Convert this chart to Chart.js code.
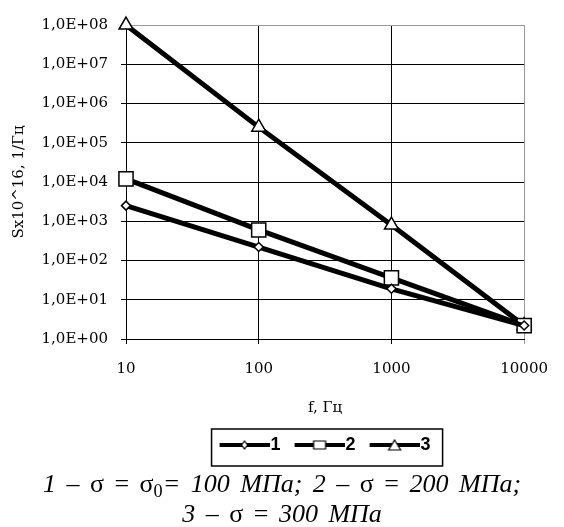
<!DOCTYPE html>
<html>
<head>
<meta charset="utf-8">
<script src="https://cdn.jsdelivr.net/npm/chart.js@4"></script>
<style>
  body { margin: 0; background: #fff; }
  #wrap { position: relative; width: 564px; height: 527px; }
  #caption {
    position: absolute; left: 0; top: 469px; width: 564px;
    text-align: center; font-family: "Liberation Serif", "Times New Roman", serif;
    font-size: 26px; line-height: 30px; word-spacing: 4px; color: #000;
    white-space: nowrap;
  }
  #caption i { font-style: italic; }
  #caption sub { font-size: 0.7em; line-height: 0; vertical-align: -0.25em; }
</style>
</head>
<body>
<div id="wrap">
  <canvas id="chart"></canvas>
  <div id="caption">
    <i>1 –</i> σ = σ<sub>0</sub><i>= 100 МПа; 2 –</i> σ = <i>200 МПа;</i><br>
    <i>3 –</i> σ = <i>300 МПа</i>
  </div>
</div>
<script>
const frequencies = [10, 100, 1000, 10000];
const seriesNames = ["1", "2", "3"];
const series1 = [2500, 220, 19, 2.2];
const series2 = [12000, 600, 36, 2.2];
const series3 = [1.0e8, 2.5e5, 800, 2.2];
const xTicks = [10, 100, 1000, 10000];
const xTickLabels = ["10", "100", "1000", "10000"];
const yTicks = [1e0, 1e1, 1e2, 1e3, 1e4, 1e5, 1e6, 1e7, 1e8];
const yTickLabels = ["1,0E+00", "1,0E+01", "1,0E+02", "1,0E+03", "1,0E+04",
  "1,0E+05", "1,0E+06", "1,0E+07", "1,0E+08"];

const styles = ["rectRot", "rect", "triangle"];
const radii = [4.5, 10, 8];

// small pictures for the legend: thick line with the marker in the middle
function legendIcon(style) {
  const c = document.createElement("canvas");
  c.width = 58;
  c.height = 16;
  const g = c.getContext("2d");
  g.fillStyle = "#000";
  g.fillRect(8, 6, 50, 4);
  g.fillStyle = "#fff";
  g.strokeStyle = "#000";
  g.lineWidth = 1.2;
  const cx = 33, cy = 8;
  g.beginPath();
  if (style === "rectRot") {
    g.moveTo(cx, cy - 4); g.lineTo(cx + 3, cy); g.lineTo(cx, cy + 4); g.lineTo(cx - 3, cy);
    g.closePath();
  } else if (style === "rect") {
    g.rect(cx - 6, cy - 4, 12, 8);
  } else {
    g.moveTo(cx, cy - 5); g.lineTo(cx + 6, cy + 5); g.lineTo(cx - 6, cy + 5);
    g.closePath();
  }
  g.fill();
  g.stroke();
  return c;
}
const icons = styles.map(legendIcon);

const legendBox = {
  id: "legendBox",
  afterDraw(chart) {
    const hb = chart.legend.legendHitBoxes;
    if (!hb || !hb.length) return;
    const last = hb[hb.length - 1];
    const ctx = chart.ctx;
    ctx.save();
    ctx.strokeStyle = "#000";
    ctx.lineWidth = 1.5;
    ctx.strokeRect(hb[0].left - 8, hb[0].top - 7, last.left + last.width + 20 - hb[0].left, 37);
    ctx.restore();
  },
};

const tickFont = { family: "DejaVu Serif", size: 15 };
const gridColor = (edge) => (ctx) => (ctx.tick && ctx.tick.value === edge ? "#999" : "#000");

new Chart(document.getElementById("chart"), {
  type: "line",
  data: {
    datasets: [series1, series2, series3].map((s, i) => ({
      label: seriesNames[i],
      data: s.map((v, j) => ({ x: frequencies[j], y: v })),
      borderColor: "#000",
      borderWidth: 5,
      pointStyle: styles[i],
      pointRadius: radii[i],
      pointBackgroundColor: "#fff",
      pointBorderColor: "#000",
      pointBorderWidth: 1.5,
      clip: false,
    })),
  },
  plugins: [legendBox],
  options: {
    responsive: true,
    maintainAspectRatio: false,
    animation: false,
    layout: { padding: { left: 0, top: 25, right: 3, bottom: 63 } },
    scales: {
      x: {
        type: "logarithmic",
        min: 10,
        max: 10000,
        afterBuildTicks: (scale) => { scale.ticks = xTicks.map((v) => ({ value: v })); },
        afterFit: (scale) => { scale.height = 83; },
        ticks: {
          color: "#000",
          font: tickFont,
          padding: 16,
          maxRotation: 0,
          callback: (value, index) => xTickLabels[index],
        },
        grid: { color: gridColor(10000), tickLength: 5, lineWidth: 1 },
        border: { color: "#000", width: 1 },
        title: {
          display: true,
          text: "f, Гц",
          color: "#000",
          font: tickFont,
          padding: { top: 0, bottom: 5 },
        },
      },
      y: {
        type: "logarithmic",
        min: 1,
        max: 1e8,
        afterBuildTicks: (scale) => { scale.ticks = yTicks.map((v) => ({ value: v })); },
        afterFit: (scale) => { scale.width = 126; },
        ticks: {
          color: "#000",
          font: tickFont,
          padding: 13,
          callback: (value, index) => yTickLabels[index],
        },
        grid: { color: gridColor(1e8), tickLength: 5, lineWidth: 1 },
        border: { color: "#000", width: 1 },
        title: {
          display: true,
          text: "Sx10^16, 1/Гц",
          color: "#000",
          font: { family: "DejaVu Serif", size: 15 },
          padding: { top: 10, bottom: 0 },
        },
      },
    },
    plugins: {
      tooltip: { enabled: false },
      legend: {
        position: "bottom",
        fullSize: false,
        labels: {
          usePointStyle: true,
          pointStyleWidth: 42,
          padding: 14,
          color: "#000",
          font: { family: "Liberation Sans", size: 18, weight: "bold" },
          generateLabels: (chart) =>
            Chart.defaults.plugins.legend.labels.generateLabels(chart).map((l, i) => ({
              ...l,
              pointStyle: icons[i],
            })),
        },
      },
    },
  },
});
</script>
</body>
</html>
